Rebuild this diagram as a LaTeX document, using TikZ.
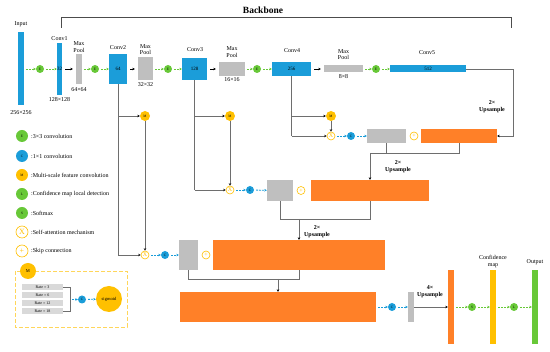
\documentclass[tikz,border=0pt]{standalone}
\usepackage{fontspec}
\setmainfont{Liberation Serif}
\usetikzlibrary{arrows.meta}
\definecolor{mblue}{RGB}{27,157,217}
\definecolor{mgreen}{RGB}{104,200,56}
\definecolor{morange}{RGB}{255,128,40}
\definecolor{mgray}{RGB}{191,191,191}
\definecolor{myellow}{RGB}{255,192,0}
\definecolor{mpale}{RGB}{255,214,90}
\definecolor{mline}{RGB}{110,110,110}
\begin{document}
\begin{tikzpicture}[x=1pt, y=-1pt,
    blk/.style={inner sep=0pt, font=\fontsize{5}{5}\selectfont},
    bluebox/.style={blk, fill=mblue},
    graybox/.style={blk, fill=mgray},
    orangebox/.style={blk, fill=morange},
    op/.style={circle, inner sep=0pt, minimum size=8pt, font=\fontsize{3.5}{3.5}\selectfont},
    eop/.style={op, fill=mgreen},
    cop/.style={op, fill=mblue},
    mop/.style={op, fill=myellow, minimum size=10pt},
    xop/.style={op, draw=myellow, fill=white, text=myellow, line width=0.6pt, font=\fontsize{6}{6}\selectfont},
    lbl/.style={font=\fontsize{6}{6.5}\selectfont, align=center, inner sep=0pt},
    uplbl/.style={lbl, font=\bfseries\fontsize{6}{7}\selectfont},
    leg/.style={lbl, anchor=west},
    glink/.style={draw=mgreen, line width=0.8pt, dash pattern=on 2pt off 1pt, -{Stealth[length=2.5pt,width=2.5pt]}, shorten <=2pt},
    blink/.style={glink, draw=mblue},
    parr/.style={-{Stealth[length=2.5pt,width=2.5pt]}, line width=0.8pt, shorten <=3pt, shorten >=3pt},
    wire/.style={draw=mline, line width=0.6pt},
    warr/.style={wire, -{Stealth[length=2.5pt,width=2.5pt,color=black]}}
]
    \useasboundingbox (0,0) rectangle (550,352);

    % Backbone
    \draw[line width=0.8pt, black!70] (61,28) -- (61,17) -- (511,17) -- (511,28);
    \node[font=\bfseries\fontsize{9.5}{9.5}\selectfont] (bbone) at (263,10) {Backbone};

    % Encoder
    \node[bluebox, minimum width=6pt, minimum height=73pt] (input) at (21,69) {};
    \node[lbl] (inputlbl) at (21,24) {Input};
    \node[lbl] (inputsz) at (21,113) {256×256};
    \node[eop] (e1) at (40,69) {E};
    \node[bluebox, minimum width=5pt, minimum height=52pt] (conv1) at (59.5,69) {32};
    \node[lbl] (conv1lbl) at (59.5,39) {Conv1};
    \node[lbl] (conv1sz) at (59.5,100) {128×128};
    \node[graybox, minimum width=6pt, minimum height=30pt] (pool1) at (79,69) {};
    \node[lbl] (pool1lbl) at (79,47) {Max\\Pool};
    \node[lbl] (pool1sz) at (79,90) {64×64};
    \node[eop] (e2) at (95,69) {E};
    \node[bluebox, minimum width=18pt, minimum height=30pt] (conv2) at (118,69) {64};
    \node[lbl] (conv2lbl) at (118,48) {Conv2};
    \node[graybox, minimum width=15pt, minimum height=23pt] (pool2) at (145.5,69) {};
    \node[lbl] (pool2lbl) at (145.5,49.5) {Max\\Pool};
    \node[lbl] (pool2sz) at (145.5,85) {32×32};
    \node[eop] (e3) at (168,69) {E};
    \node[bluebox, minimum width=25pt, minimum height=22pt] (conv3) at (194.5,69) {128};
    \node[lbl] (conv3lbl) at (195,50) {Conv3};
    \node[graybox, minimum width=26pt, minimum height=14pt] (pool3) at (232,69) {};
    \node[lbl] (pool3lbl) at (232,52) {Max\\Pool};
    \node[lbl] (pool3sz) at (232,80) {16×16};
    \node[eop] (e4) at (257,69) {E};
    \node[bluebox, minimum width=39pt, minimum height=14pt] (conv4) at (291.5,69) {256};
    \node[lbl] (conv4lbl) at (292,51) {Conv4};
    \node[graybox, minimum width=39pt, minimum height=7pt] (pool4) at (343.5,69) {};
    \node[lbl] (pool4lbl) at (343.5,54.5) {Max\\Pool};
    \node[lbl] (pool4sz) at (343.5,76.5) {8×8};
    \node[eop] (e5) at (376,69) {E};
    \node[bluebox, minimum width=76pt, minimum height=7pt] (conv5) at (428,69) {512};
    \node[lbl] (conv5lbl) at (427,53) {Conv5};

    \draw[glink] (input) -- (e1);
    \draw[glink] (e1) -- (conv1);
    \draw[parr] (conv1) -- (pool1);
    \draw[glink] (pool1) -- (e2);
    \draw[glink] (e2) -- (conv2);
    \draw[parr] (conv2) -- (pool2);
    \draw[glink] (pool2) -- (e3);
    \draw[glink] (e3) -- (conv3);
    \draw[parr] (conv3) -- (pool3);
    \draw[glink] (pool3) -- (e4);
    \draw[glink] (e4) -- (conv4);
    \draw[parr] (conv4) -- (pool4);
    \draw[glink] (pool4) -- (e5);
    \draw[glink] (e5) -- (conv5);

    % Decoder stage 4
    \node[mop] (m4) at (331,116) {M};
    \node[xop] (x4) at (331,136) {X};
    \node[cop] (c4) at (351,136) {C};
    \node[graybox, minimum width=39pt, minimum height=14pt] (g4) at (386.5,136) {};
    \node[xop] (p4) at (414,136) {+};
    \node[orangebox, minimum width=76pt, minimum height=14pt] (o4) at (459,136) {};
    \draw[wire] (conv4.south) -- (conv4.south |- x4);
    \draw[warr] (conv4.south |- m4) -- (m4);
    \draw[warr] (conv4.south |- x4) -- (x4);
    \draw[warr] (m4) -- (x4);
    \draw[blink] (x4) -- (c4);
    \draw[blink] (c4) -- (g4);
    \coordinate (turn5) at (513,69);
    \draw[warr] (conv5.east) -- (turn5) |- (o4.east);
    \node[uplbl] (up5) at (492,107) {2×\\Upsample};

    % Decoder stage 3
    \node[mop] (m3) at (230,116) {M};
    \node[xop] (x3) at (230,190) {X};
    \node[cop] (c3) at (250,190) {C};
    \node[graybox, minimum width=26pt, minimum height=21pt] (g3) at (280,190.5) {};
    \node[xop] (p3) at (301,190.5) {+};
    \node[orangebox, minimum width=118pt, minimum height=21pt] (o3) at (370,190.5) {};
    \draw[wire] (conv3.south) -- (conv3.south |- x3);
    \draw[warr] (conv3.south |- m3) -- (m3);
    \draw[warr] (conv3.south |- x3) -- (x3);
    \draw[warr] (m3) -- (x3);
    \draw[blink] (x3) -- (c3);
    \draw[blink] (c3) -- (g3);
    \coordinate (j4) at (370,153);
    \draw[wire] (g4.south) -- (g4.south |- j4);
    \draw[wire] (o4.south) -- (o4.south |- j4) -- (j4);
    \draw[warr] (j4) -- (o3.north);
    \node[uplbl] (up4) at (398,167) {2×\\Upsample};

    % Decoder stage 2
    \node[mop] (m2) at (145,116) {M};
    \node[xop] (x2) at (145,255) {X};
    \node[cop] (c2) at (165,255) {C};
    \node[graybox, minimum width=19pt, minimum height=30pt] (g2) at (188.5,255) {};
    \node[xop] (p2) at (206,255) {+};
    \node[orangebox, minimum width=172pt, minimum height=30pt] (o2) at (299,255) {};
    \draw[wire] (conv2.south) -- (conv2.south |- x2);
    \draw[warr] (conv2.south |- m2) -- (m2);
    \draw[warr] (conv2.south |- x2) -- (x2);
    \draw[warr] (m2) -- (x2);
    \draw[blink] (x2) -- (c2);
    \draw[blink] (c2) -- (g2);
    \coordinate (j3) at (299,219);
    \draw[wire] (g3.south) |- (o3.south |- j3) -- (o3.south);
    \draw[warr] (j3) -- (o2.north);
    \node[uplbl] (up3) at (317,232) {2×\\Upsample};

    % Head
    \node[orangebox, minimum width=196pt, minimum height=30pt] (o1) at (278,307) {};
    \coordinate (j2) at (278,279);
    \draw[wire] (g2.south) |- (o2.south |- j2) -- (o2.south);
    \draw[warr] (j2) -- (o1.north);
    \node[cop] (c1) at (392,307) {C};
    \node[graybox, minimum width=6pt, minimum height=30pt] (g1) at (411,307) {};
    \node[orangebox, minimum width=6pt, minimum height=74pt] (obar) at (451,307) {};
    \node[eop] (s1) at (472,307) {S};
    \node[blk, fill=myellow, minimum width=6pt, minimum height=74pt] (ybar) at (493,307) {};
    \node[lbl] (ybarlbl) at (493,261.5) {Confidence\\map};
    \node[eop] (l1) at (514,307) {L};
    \node[blk, fill=mgreen, minimum width=6pt, minimum height=74pt] (gbar) at (535,307) {};
    \node[lbl] (gbarlbl) at (535,262) {Output};
    \draw[blink] (o1) -- (c1);
    \draw[blink] (c1) -- (g1);
    \draw[warr] (g1.east) -- (obar.west);
    \node[uplbl] (up2) at (430,292) {4×\\Upsample};
    \draw[glink] (obar) -- (s1);
    \draw[glink] (s1) -- (ybar);
    \draw[glink] (ybar) -- (l1);
    \draw[glink] (l1) -- (gbar);

    % Legend
    \node[eop, minimum size=12pt] (kE) at (22,136) {E};
    \node[leg] (kEt) at (31,136) {:3×3 convolution};
    \node[cop, minimum size=12pt] (kC) at (22,156) {C};
    \node[leg] (kCt) at (31,156) {:1×1 convolution};
    \node[mop, minimum size=12pt] (kM) at (22,175) {M};
    \node[leg] (kMt) at (31,175) {:Multi-scale feature convolution};
    \node[eop, minimum size=12pt] (kL) at (22,194) {L};
    \node[leg] (kLt) at (31,194) {:Confidence map local detection};
    \node[eop, minimum size=12pt] (kS) at (22,213) {S};
    \node[leg] (kSt) at (31,213) {:Softmax};
    \node[xop, minimum size=12pt, font=\fontsize{8}{8}\selectfont] (kX) at (22,232) {X};
    \node[leg] (kXt) at (31,232) {:Self-attention mechanism};
    \node[xop, minimum size=12pt, font=\fontsize{8}{8}\selectfont] (kP) at (22,251) {+};
    \node[leg] (kPt) at (31,251) {:Skip connection};

    % Multi-scale block
    \draw[mpale, line width=0.9pt, dash pattern=on 4pt off 2pt] (15,271) rectangle (127,327);
    \node[mop, minimum size=16pt, font=\fontsize{4.5}{4.5}\selectfont] (mblk) at (28,271) {M};
    \node[graybox, fill=mgray!60, minimum width=41pt, minimum height=6pt, font=\fontsize{4}{4}\selectfont] (rate3) at (42.5,287.5) {Rate = 3};
    \node[graybox, fill=mgray!60, minimum width=41pt, minimum height=6pt, font=\fontsize{4}{4}\selectfont] (rate6) at (42.5,295.5) {Rate = 6};
    \node[graybox, fill=mgray!60, minimum width=41pt, minimum height=6pt, font=\fontsize{4}{4}\selectfont] (rate12) at (42.5,303.5) {Rate = 12};
    \node[graybox, fill=mgray!60, minimum width=41pt, minimum height=6pt, font=\fontsize{4}{4}\selectfont] (rate18) at (42.5,311.5) {Rate = 18};
    \coordinate (brk) at (70,299.5);
    \draw[wire] (rate3.east) -- (brk |- rate3) -- (brk |- rate18) -- (rate18.east);
    \node[cop] (cm) at (82,299.5) {C};
    \node[op, fill=myellow, minimum size=26pt, font=\fontsize{4.5}{4.5}\selectfont] (sig) at (109,299) {sigmoid};
    \draw[blink] (brk) -- (cm);
    \draw[blink] (cm) -- (sig);
\end{tikzpicture}
\end{document}
